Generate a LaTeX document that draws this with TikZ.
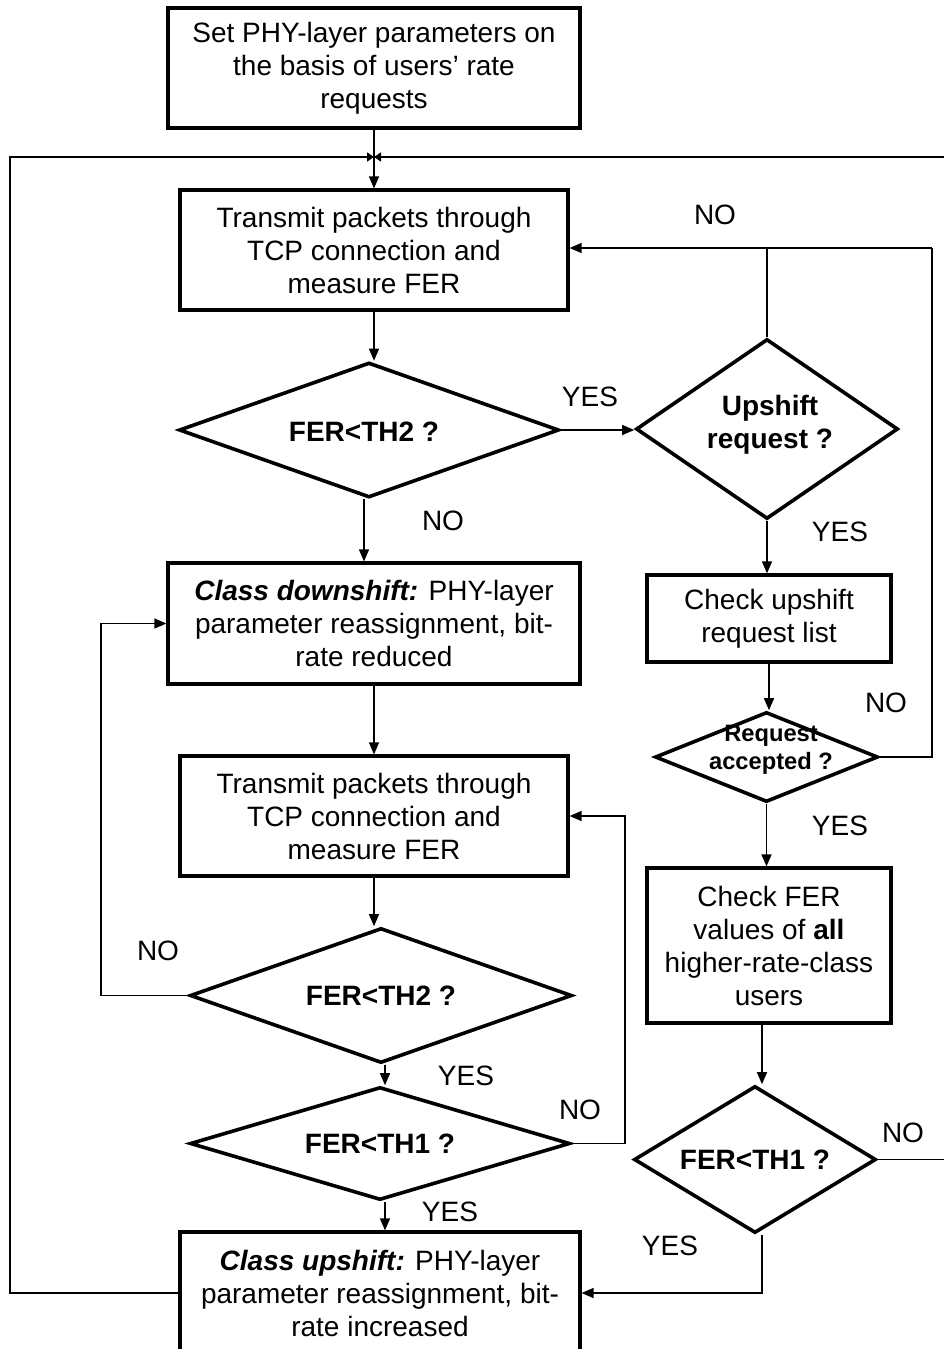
\documentclass[tikz,border=0pt]{standalone}
\usepackage{fontspec}
\setmainfont{Liberation Sans}
\usetikzlibrary{shapes.geometric,arrows.meta,calc}
\begin{document}
\begin{tikzpicture}[x=1pt,y=-1pt,
  every node/.style={font=\fontsize{28}{33}\selectfont},
  box/.style={draw, line width=3.2pt, align=center, inner sep=0pt},
  dia/.style={draw, diamond, line width=3.6pt, inner sep=0pt, aspect=1},
  dtext/.style={align=center, font=\fontsize{28}{33}\selectfont\bfseries},
  lbl/.style={font=\fontsize{28}{33}\selectfont},
  conn/.style={line width=1.4pt},
  arr/.style={line width=1.4pt, -{Triangle[length=12pt,width=10pt]}},
  jarr/.style={line width=1.4pt, -{Triangle[length=7pt,width=9pt]}}
]
\useasboundingbox (0,0) rectangle (944,1349);
\clip (0,0) rectangle (944,1349);

% boxes
\node[box, minimum width=412pt, minimum height=120pt] (b1) at (374,68)
  {Set PHY-layer parameters on\\the basis of users’ rate\\requests};
\node[box, minimum width=388pt, minimum height=120pt] (t1) at (374,250)
  {Transmit packets through\\TCP connection and\\measure FER};
\node[box, minimum width=412pt, minimum height=121pt] (down) at (374,623.5)
  {\textbf{\textit{Class downshift:}} PHY-layer\\parameter reassignment, bit-\\rate reduced};
\node[box, minimum width=388pt, minimum height=120pt] (t2) at (374,816)
  {Transmit packets through\\TCP connection and\\measure FER};
\node[box, minimum width=400pt, minimum height=122pt] (up) at (380,1293)
  {\textbf{\textit{Class upshift:}} PHY-layer\\parameter reassignment, bit-\\rate increased};
\node[box, minimum width=244pt, minimum height=87pt] (chk1) at (769,618.5)
  {Check upshift\\request list};
\node[box, minimum width=244pt, minimum height=155pt] (chk2) at (769,945.5)
  {Check FER\\values of \textbf{all}\\higher-rate-class\\users};

% diamonds
\node[dia, minimum width=380pt, minimum height=135pt] (d1) at (369,430) {};
\node[dtext] (d1t) at (364,432) {FER<TH2 ?};
\node[dia, minimum width=262pt, minimum height=180pt] (d2) at (767,429) {};
\node[dtext] (d2t) at (770,425) {Upshift\\request ?};
\node[dia, minimum width=223pt, minimum height=90pt] (d3) at (766.5,757) {};
\node[dtext, font=\fontsize{23.7}{28}\selectfont\bfseries] (d3t) at (771,750) {Request\\accepted ?};
\node[dia, minimum width=242pt, minimum height=147pt] (d4) at (755,1159.5) {};
\node[dtext] (d4t) at (d4) {FER<TH1 ?};
\node[dia, minimum width=382pt, minimum height=135pt] (d5) at (381,995.5) {};
\node[dtext] (d5t) at (d5) {FER<TH2 ?};
\node[dia, minimum width=380pt, minimum height=113pt] (d6) at (380,1143.5) {};
\node[dtext] (d6t) at (d6) {FER<TH1 ?};

% helper coordinates
\coordinate (j) at (374,157);
\coordinate (tl) at (10,157);
\coordinate (tr) at (944,157);
\coordinate (rr) at (932,248);
\coordinate (lx) at (101,0);
\coordinate (rx) at (625,0);
\coordinate (re) at (944,0);

% connectors
\draw[arr] (b1.south) -- (t1.north);
\draw[jarr] (up.west) -| (tl) -- (j);
\draw[jarr] (tr) -- (j);
\draw[arr] (t1.south) -- (t1.south |- d1.north);
\draw[arr] (d1.east) -- (d1.east -| d2.west);
\draw[conn] (d2.north) -- (d2.north |- rr);
\draw[arr] (rr) -- (rr -| t1.east);
\draw[conn] (d3.east) -| (rr);
\draw[arr] (d2.south) -- (d2.south |- chk1.north);
\draw[arr] (chk1.south) -- (chk1.south |- d3.north);
\draw[arr] (d3.south) -- (d3.south |- chk2.north);
\draw[arr] (chk2.south -| 762,0) -- (762,0 |- d4.north);
\draw[conn] (d4.east) -- (d4.east -| re);
\draw[arr] (d4.south -| 762,0) |- (up.east);
\draw[arr] (d1.south -| 364,0) -- (364,0 |- down.north);
\draw[arr] (down.south) -- (t2.north);
\draw[arr] (t2.south) -- (t2.south |- d5.north);
\draw[arr] (d5.west) -| (lx |- down.west) -- (down.west);
\draw[arr] (d5.south -| 385,0) -- (385,0 |- d6.north);
\draw[arr] (d6.east) -| (rx |- t2.east) -- (t2.east);
\draw[arr] (d6.south -| 385,0) -- (385,0 |- up.north);

% labels
\node[lbl] (l1) at (590,397) {YES};
\node[lbl] (l2) at (715,215) {NO};
\node[lbl] (l3) at (840,532) {YES};
\node[lbl] (l4) at (886,703) {NO};
\node[lbl] (l5) at (840,826) {YES};
\node[lbl] (l6) at (903,1133) {NO};
\node[lbl] (l7) at (670,1246) {YES};
\node[lbl] (l8) at (443,521) {NO};
\node[lbl] (l9) at (158,951) {NO};
\node[lbl] (l10) at (466,1076) {YES};
\node[lbl] (l11) at (580,1110) {NO};
\node[lbl] (l12) at (450,1212) {YES};
\end{tikzpicture}
\end{document}
